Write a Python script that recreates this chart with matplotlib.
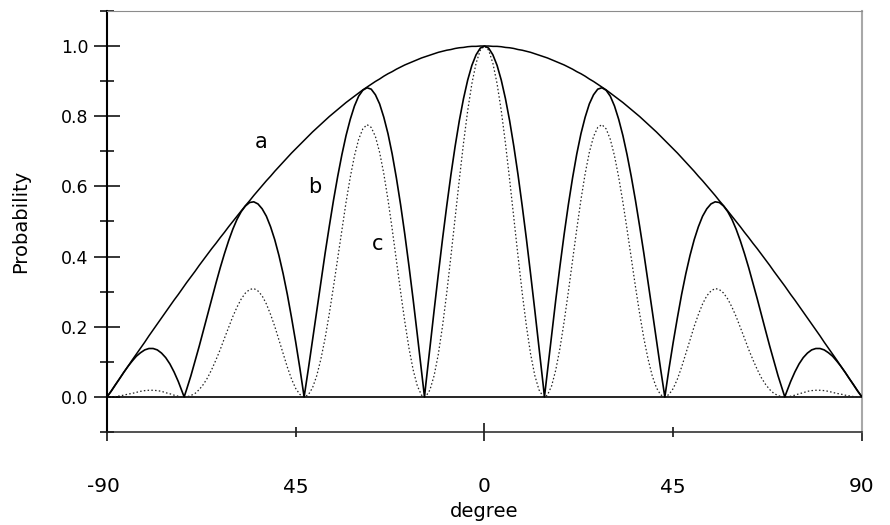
import matplotlib
matplotlib.use('Agg')
import matplotlib.pyplot as plt
from matplotlib.transforms import ScaledTranslation

# angle in degrees; the zero crossings of b and c are included
degree = [-90, -89, -88, -87, -86, -85, -84, -83, -82, -81, -80, -79, -78, -77, -76, -75,
          -74, -73, -72, -71.6, -71, -70, -69, -68, -67, -66, -65, -64, -63, -62, -61, -60,
          -59, -58, -57, -56, -55, -54, -53, -52, -51, -50, -49, -48, -47, -46, -45, -44,
          -43, -42, -41, -40, -39, -38, -37, -36, -35, -34, -33, -32, -31, -30, -29, -28,
          -27, -26, -25, -24, -23, -22, -21, -20, -19, -18, -17, -16, -15, -14.3, -14, -13,
          -12, -11, -10, -9, -8, -7, -6, -5, -4, -3, -2, -1,
          0,
          1, 2, 3, 4, 5, 6, 7, 8, 9, 10, 11, 12, 13, 14, 14.3, 15, 16, 17, 18, 19, 20, 21,
          22, 23, 24, 25, 26, 27, 28, 29, 30, 31, 32, 33, 34, 35, 36, 37, 38, 39, 40, 41,
          42, 43, 44, 45, 46, 47, 48, 49, 50, 51, 52, 53, 54, 55, 56, 57, 58, 59, 60, 61,
          62, 63, 64, 65, 66, 67, 68, 69, 70, 71, 71.6, 72, 73, 74, 75, 76, 77, 78, 79, 80,
          81, 82, 83, 84, 85, 86, 87, 88, 89, 90]

curve_a = [0.000, 0.017, 0.035, 0.052, 0.070, 0.087, 0.105, 0.122, 0.139, 0.156, 0.174, 0.191,
           0.208, 0.225, 0.242, 0.259, 0.276, 0.292, 0.309, 0.316, 0.326, 0.342, 0.358, 0.375,
           0.391, 0.407, 0.423, 0.438, 0.454, 0.469, 0.485, 0.500, 0.515, 0.530, 0.545, 0.559,
           0.574, 0.588, 0.602, 0.616, 0.629, 0.643, 0.656, 0.669, 0.682, 0.695, 0.707, 0.719,
           0.731, 0.743, 0.755, 0.766, 0.777, 0.788, 0.799, 0.809, 0.819, 0.829, 0.839, 0.848,
           0.857, 0.866, 0.875, 0.883, 0.891, 0.899, 0.906, 0.914, 0.921, 0.927, 0.934, 0.940,
           0.946, 0.951, 0.956, 0.961, 0.966, 0.969, 0.970, 0.974, 0.978, 0.982, 0.985, 0.988,
           0.990, 0.993, 0.995, 0.996, 0.998, 0.999, 0.999, 1.000,
           1.000,
           1.000, 0.999, 0.999, 0.998, 0.996, 0.995, 0.993, 0.990, 0.988, 0.985, 0.982, 0.978,
           0.974, 0.970, 0.969, 0.966, 0.961, 0.956, 0.951, 0.946, 0.940, 0.934, 0.927, 0.921,
           0.914, 0.906, 0.899, 0.891, 0.883, 0.875, 0.866, 0.857, 0.848, 0.839, 0.829, 0.819,
           0.809, 0.799, 0.788, 0.777, 0.766, 0.755, 0.743, 0.731, 0.719, 0.707, 0.695, 0.682,
           0.669, 0.656, 0.643, 0.629, 0.616, 0.602, 0.588, 0.574, 0.559, 0.545, 0.530, 0.515,
           0.500, 0.485, 0.469, 0.454, 0.438, 0.423, 0.407, 0.391, 0.375, 0.358, 0.342, 0.326,
           0.316, 0.309, 0.292, 0.276, 0.259, 0.242, 0.225, 0.208, 0.191, 0.174, 0.156, 0.139,
           0.122, 0.105, 0.087, 0.070, 0.052, 0.035, 0.017, 0.000]

curve_b = [0.000, 0.016, 0.034, 0.052, 0.070, 0.087, 0.102, 0.116, 0.126, 0.134, 0.138, 0.138,
           0.134, 0.125, 0.112, 0.094, 0.071, 0.044, 0.013, 0.000, 0.022, 0.060, 0.102, 0.145,
           0.190, 0.235, 0.281, 0.325, 0.368, 0.408, 0.445, 0.478, 0.506, 0.528, 0.544, 0.554,
           0.556, 0.550, 0.536, 0.515, 0.485, 0.448, 0.403, 0.351, 0.292, 0.226, 0.156, 0.081,
           0.000, 0.079, 0.162, 0.245, 0.328, 0.409, 0.486, 0.560, 0.628, 0.690, 0.745, 0.791,
           0.829, 0.857, 0.874, 0.881, 0.877, 0.861, 0.835, 0.797, 0.750, 0.692, 0.624, 0.548,
           0.464, 0.373, 0.277, 0.176, 0.072, 0.000, 0.034, 0.141, 0.247, 0.350, 0.450, 0.544,
           0.633, 0.714, 0.787, 0.850, 0.903, 0.945, 0.975, 0.994,
           1.000,
           0.994, 0.975, 0.945, 0.903, 0.850, 0.787, 0.714, 0.633, 0.544, 0.450, 0.350, 0.247,
           0.141, 0.034, 0.000, 0.072, 0.176, 0.277, 0.373, 0.464, 0.548, 0.624, 0.692, 0.750,
           0.797, 0.835, 0.861, 0.877, 0.881, 0.874, 0.857, 0.829, 0.791, 0.745, 0.690, 0.628,
           0.560, 0.486, 0.409, 0.328, 0.245, 0.162, 0.079, 0.000, 0.081, 0.156, 0.226, 0.292,
           0.351, 0.403, 0.448, 0.485, 0.515, 0.536, 0.550, 0.556, 0.554, 0.544, 0.528, 0.506,
           0.478, 0.445, 0.408, 0.368, 0.325, 0.281, 0.235, 0.190, 0.145, 0.102, 0.060, 0.022,
           0.000, 0.013, 0.044, 0.071, 0.094, 0.112, 0.125, 0.134, 0.138, 0.138, 0.134, 0.126,
           0.116, 0.102, 0.087, 0.070, 0.052, 0.034, 0.016, 0.000]

curve_c = [0.000, 0.000, 0.001, 0.003, 0.005, 0.008, 0.010, 0.013, 0.016, 0.018, 0.019, 0.019,
           0.018, 0.016, 0.012, 0.009, 0.005, 0.002, 0.000, 0.000, 0.000, 0.004, 0.010, 0.021,
           0.036, 0.055, 0.079, 0.106, 0.135, 0.167, 0.198, 0.229, 0.256, 0.279, 0.296, 0.306,
           0.309, 0.302, 0.288, 0.265, 0.235, 0.201, 0.162, 0.123, 0.085, 0.051, 0.024, 0.007,
           0.000, 0.006, 0.026, 0.060, 0.108, 0.167, 0.237, 0.314, 0.395, 0.477, 0.555, 0.626,
           0.687, 0.734, 0.764, 0.776, 0.768, 0.742, 0.697, 0.636, 0.562, 0.478, 0.389, 0.300,
           0.215, 0.139, 0.077, 0.031, 0.005, 0.000, 0.001, 0.020, 0.061, 0.122, 0.202, 0.296,
           0.401, 0.510, 0.619, 0.723, 0.816, 0.893, 0.951, 0.988,
           1.000,
           0.988, 0.951, 0.893, 0.816, 0.723, 0.619, 0.510, 0.401, 0.296, 0.202, 0.122, 0.061,
           0.020, 0.001, 0.000, 0.005, 0.031, 0.077, 0.139, 0.215, 0.300, 0.389, 0.478, 0.562,
           0.636, 0.697, 0.742, 0.768, 0.776, 0.764, 0.734, 0.687, 0.626, 0.555, 0.477, 0.395,
           0.314, 0.237, 0.167, 0.108, 0.060, 0.026, 0.006, 0.000, 0.007, 0.024, 0.051, 0.085,
           0.123, 0.162, 0.201, 0.235, 0.265, 0.288, 0.302, 0.309, 0.306, 0.296, 0.279, 0.256,
           0.229, 0.198, 0.167, 0.135, 0.106, 0.079, 0.055, 0.036, 0.021, 0.010, 0.004, 0.000,
           0.000, 0.000, 0.002, 0.005, 0.009, 0.012, 0.016, 0.018, 0.019, 0.019, 0.018, 0.016,
           0.013, 0.010, 0.008, 0.005, 0.003, 0.001, 0.000, 0.000]

x_major = [-90, 0, 90]
x_major_labels = ['-90', '0', '90']
x_minor = [-45, 45]
x_minor_labels = ['45', '45']
y_major = [0.0, 0.2, 0.4, 0.6, 0.8, 1.0]
y_major_labels = ['0.0', '0.2', '0.4', '0.6', '0.8', '1.0']
y_minor = [-0.1, 0.1, 0.3, 0.5, 0.7, 0.9, 1.1]

fig = plt.figure(figsize=(8.9, 5.25), dpi=100)
ax = fig.add_axes([0.1202, 0.1771, 0.8483, 0.8021])

ax.axhline(0, color='black', lw=1.2, zorder=1)
ax.plot(degree, curve_a, color='black', lw=1.1, zorder=3)
ax.plot(degree, curve_b, color='black', lw=1.2, zorder=3)
ax.plot(degree, curve_c, color='#222222', lw=0.9, linestyle=(0, (1.2, 1.8)), zorder=2)

ax.text(-53.2, 0.726, 'a', fontsize=15, ha='center', va='center')
ax.text(-40.5, 0.598, 'b', fontsize=15, ha='center', va='center')
ax.text(-25.5, 0.436, 'c', fontsize=15, ha='center', va='center')

ax.set_xlim(-90, 90)
ax.set_ylim(-0.1, 1.1)

ax.set_xticks(x_major, x_major_labels)
ax.set_xticks(x_minor, x_minor_labels, minor=True)
ax.set_yticks(y_major, y_major_labels)
ax.set_yticks(y_minor, minor=True)

ax.tick_params(axis='x', which='major', direction='inout', length=13, width=1.1,
               pad=26, labelsize=14.5)
ax.tick_params(axis='x', which='minor', direction='inout', length=7.5, width=1.1,
               pad=29, labelsize=14.5)
ax.tick_params(axis='y', which='major', direction='inout', length=18.5, width=1.1,
               pad=4.3, labelsize=12.5)
ax.tick_params(axis='y', which='minor', direction='inout', length=10, width=1.1)

ax.spines['left'].set_linewidth(1.5)
ax.spines['bottom'].set_linewidth(1.1)
ax.spines['bottom'].set_color('#222222')
ax.spines['top'].set_color('#8c8c8c')
ax.spines['top'].set_linewidth(0.8)
ax.spines['right'].set_color('#a8a8a8')
ax.spines['right'].set_linewidth(1.5)

# the minus sign hangs to the left of the -90 label
first = ax.xaxis.get_major_ticks()[0].label1
first.set_transform(first.get_transform() + ScaledTranslation(-0.04, 0, fig.dpi_scale_trans))

ax.set_xlabel('degree', fontsize=14, labelpad=4)
ax.set_ylabel('Probability', fontsize=14, labelpad=22)

fig.savefig('out.png', dpi=100, facecolor='white')
